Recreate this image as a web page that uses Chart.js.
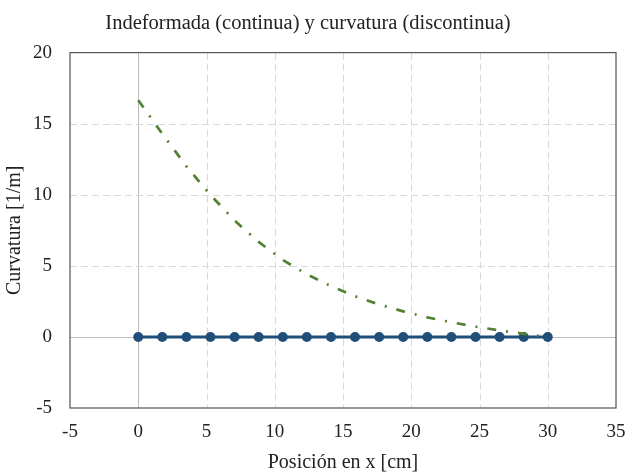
<!DOCTYPE html>
<html>
<head>
<meta charset="utf-8">
<script src="https://cdn.jsdelivr.net/npm/chart.js@4"></script>
<style>
  html, body { margin: 0; padding: 0; background: #ffffff; }
  canvas { display: block; }
</style>
</head>
<body>
<canvas id="curvatura" width="626" height="475"></canvas>
<script>
// node positions along the bar [cm]
const posX = [0, 1.76, 3.53, 5.29, 7.06, 8.82, 10.59, 12.35, 14.12, 15.88, 17.65, 19.41, 21.18, 22.94, 24.71, 26.47, 28.24, 30];
// undeformed shape (solid line)
const indeformada = [0, 0, 0, 0, 0, 0, 0, 0, 0, 0, 0, 0, 0, 0, 0, 0, 0, 0];
// curvature [1/m] (dash-dot line)
const curvatura = [16.65, 14.29, 12.0, 9.98, 8.19, 6.68, 5.41, 4.41, 3.57, 2.86, 2.28, 1.80, 1.37, 1.03, 0.72, 0.46, 0.22, 0.0];
const xTicks = [-5, 0, 5, 10, 15, 20, 25, 30, 35];
const yTicks = [-5, 0, 5, 10, 15, 20];

const serif = '"Liberation Serif", "Times New Roman", serif';

function pts(xs, ys) {
    return xs.map(function (x, i) { return { x: x, y: ys[i] }; });
}

// dashed grid, solid zero lines and the dark frame round the plot
const frame = {
    id: 'frame',
    beforeDatasetsDraw: function (chart) {
        const c = chart.ctx, a = chart.chartArea;
        const xs = chart.scales.x, ys = chart.scales.y;
        c.save();
        c.lineWidth = 1;
        xs.ticks.forEach(function (t) {
            if (t.value === xs.min || t.value === xs.max) return;
            const px = Math.round(xs.getPixelForValue(t.value)) + 0.5;
            c.strokeStyle = t.value === 0 ? '#bcbcbc' : '#d9d9d9';
            c.setLineDash(t.value === 0 ? [] : [7, 4]);
            c.beginPath(); c.moveTo(px, a.top); c.lineTo(px, a.bottom); c.stroke();
        });
        ys.ticks.forEach(function (t) {
            if (t.value === ys.min || t.value === ys.max) return;
            const py = Math.round(ys.getPixelForValue(t.value)) + 0.5;
            c.strokeStyle = t.value === 0 ? '#bcbcbc' : '#d9d9d9';
            c.setLineDash(t.value === 0 ? [] : [7, 4]);
            c.beginPath(); c.moveTo(a.left, py); c.lineTo(a.right, py); c.stroke();
        });
        c.restore();
    },
    afterDatasetsDraw: function (chart) {
        const c = chart.ctx, a = chart.chartArea;
        c.save();
        c.strokeStyle = '#595959';
        c.lineWidth = 1.25;
        c.setLineDash([]);
        c.strokeRect(a.left, a.top, a.right - a.left, a.bottom - a.top);
        c.restore();
    }
};

const ctx = document.getElementById('curvatura').getContext('2d');
const chart = new Chart(ctx, {
    type: 'scatter',
    data: {
        datasets: [
            {
                label: 'Curvatura',
                data: pts(posX, curvatura),
                showLine: true,
                borderColor: '#548235',
                borderWidth: 2.75,
                borderDash: [9, 10, 2, 10],
                pointRadius: 0,
                tension: 0,
                order: 0
            },
            {
                label: 'Indeformada',
                data: pts(posX, indeformada),
                showLine: true,
                borderColor: '#1f4e79',
                backgroundColor: '#1f4e79',
                borderWidth: 3,
                pointRadius: 5,
                pointBorderWidth: 0,
                pointBackgroundColor: '#1f4e79',
                order: 1
            }
        ]
    },
    options: {
        responsive: false,
        animation: false,
        layout: { padding: { left: 0, right: 10, top: 0, bottom: 0 } },
        plugins: {
            legend: { display: false },
            tooltip: { enabled: false },
            title: {
                display: true,
                text: 'Indeformada (continua) y curvatura (discontinua)',
                color: '#222222',
                font: { family: serif, size: 20.5, weight: 'normal' },
                padding: { top: 11, bottom: 17 }
            }
        },
        scales: {
            x: {
                type: 'linear',
                min: -5,
                max: 35,
                afterBuildTicks: function (s) { s.ticks = xTicks.map(function (v) { return { value: v }; }); },
                afterFit: function (s) { s.height = 67; s.paddingLeft = 0; s.paddingRight = 0; },
                grid: { display: false, drawTicks: false },
                border: { display: false },
                ticks: {
                    color: '#222222',
                    padding: 13,
                    maxRotation: 0,
                    font: { family: serif, size: 19 }
                },
                title: {
                    display: true,
                    text: 'Posición en x [cm]',
                    color: '#222222',
                    font: { family: serif, size: 20 },
                    padding: { top: 0, bottom: 0 }
                }
            },
            y: {
                type: 'linear',
                min: -5,
                max: 20,
                afterBuildTicks: function (s) { s.ticks = yTicks.map(function (v) { return { value: v }; }); },
                afterFit: function (s) { s.width = 70; },
                grid: { display: false, drawTicks: false },
                border: { display: false },
                ticks: {
                    color: '#222222',
                    padding: 18,
                    font: { family: serif, size: 19 }
                },
                title: {
                    display: true,
                    text: 'Curvatura [1/m]',
                    color: '#222222',
                    font: { family: serif, size: 20 },
                    padding: { top: 3, bottom: 0 }
                }
            }
        }
    },
    plugins: [frame]
});
</script>
</body>
</html>
